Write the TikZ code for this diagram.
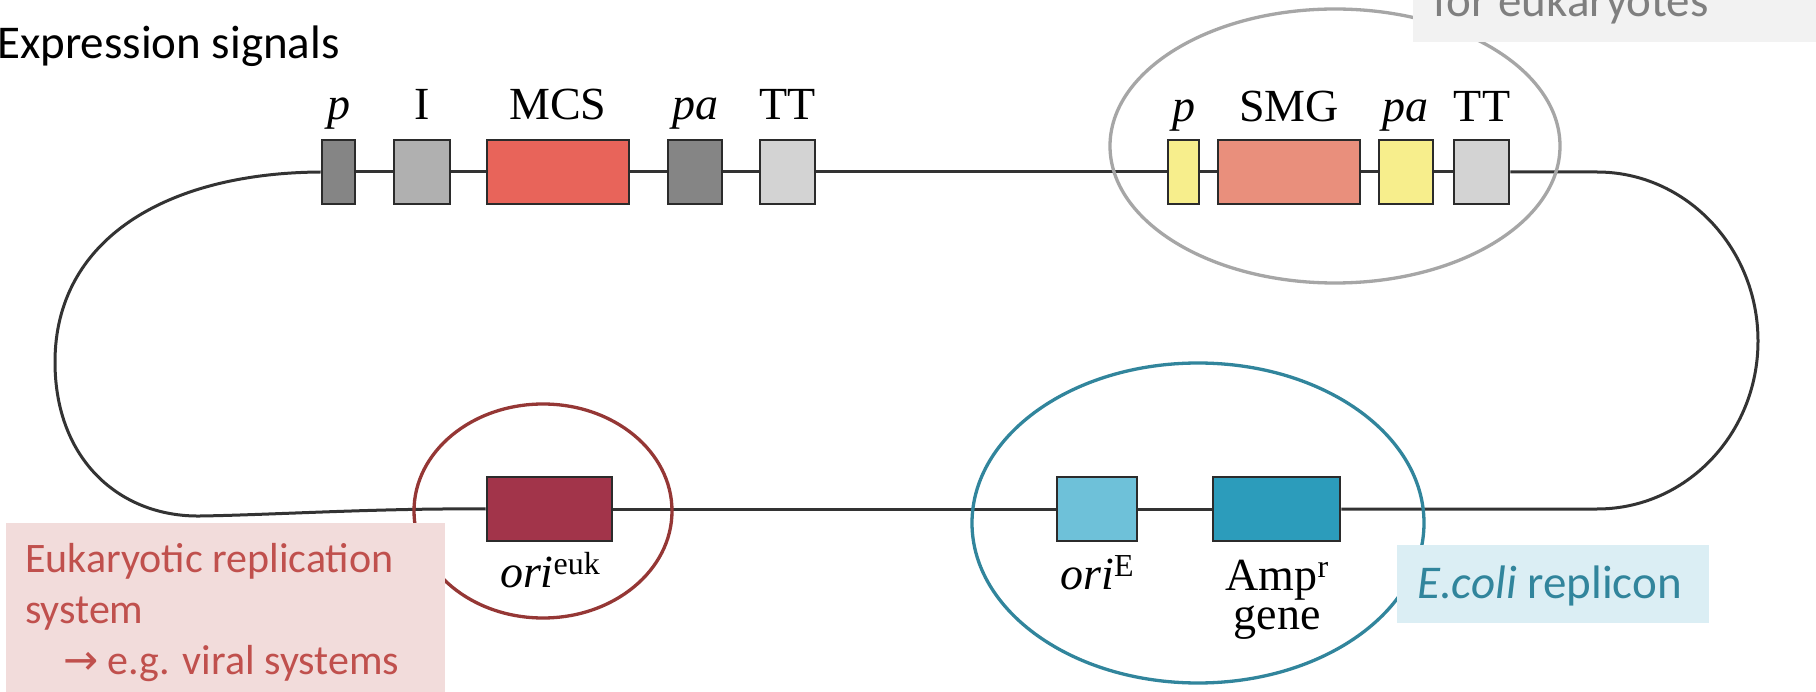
\documentclass[tikz,border=0pt]{standalone}
\usepackage{fontspec}
\setmainfont{Liberation Serif}
\newfontfamily\slidefont{Carlito}
\newfontfamily\arrowfont{DejaVu Sans}

\definecolor{lineC}{HTML}{333333}
\definecolor{boxC}{HTML}{2B2B2B}
\definecolor{darkG}{HTML}{858585}
\definecolor{midG}{HTML}{B0B0B0}
\definecolor{lightG}{HTML}{D3D3D3}
\definecolor{mcsC}{HTML}{E8645A}
\definecolor{smgC}{HTML}{E98F7C}
\definecolor{yelC}{HTML}{F7EE8C}
\definecolor{eukC}{HTML}{A2344A}
\definecolor{oriEC}{HTML}{6EC1D9}
\definecolor{ampC}{HTML}{2C9CBB}
\definecolor{greyE}{HTML}{A6A6A6}
\definecolor{redE}{HTML}{953735}
\definecolor{tealE}{HTML}{31859C}
\definecolor{greyBg}{HTML}{F2F2F2}
\definecolor{pinkBg}{HTML}{F2DCDB}
\definecolor{blueBg}{HTML}{DBEEF4}
\definecolor{greyT}{HTML}{7F7F7F}
\definecolor{redT}{HTML}{C0504D}

\newcommand{\gsup}[1]{\raisebox{13pt}{\fontsize{32}{32}\selectfont #1}}

\begin{document}
\begin{tikzpicture}[
  x=1pt, y=-1pt,
  gene/.style={
    draw=boxC,
    line width=2.6pt,
    minimum height=64pt,
    inner sep=0pt
  },
  lbl/.style={anchor=base, inner sep=0pt, font=\fontsize{46}{46}\selectfont},
  dna/.style={draw=lineC, line width=3pt},
  grp/.style={line width=3.3pt},
  callbox/.style={anchor=north west, inner sep=0pt},
  note/.style={anchor=base west, inner sep=0pt, font=\slidefont\fontsize{47}{57}\selectfont}
]
\useasboundingbox (0,0) rectangle (1816,692);
\fill[white] (0,0) rectangle (1816,692);

% Nodes: top row
\node[gene, fill=darkG, minimum width=33pt] (p1) at (338.5,172) {};
\node[gene, fill=midG, minimum width=56pt] (I) at (422,172) {};
\node[gene, fill=mcsC, minimum width=142pt] (MCS) at (558,172) {};
\node[gene, fill=darkG, minimum width=54pt] (pa1) at (695,172) {};
\node[gene, fill=lightG, minimum width=55pt] (TT1) at (787.5,172) {};
\node[gene, fill=yelC, minimum width=31pt] (p2) at (1183.5,172) {};
\node[gene, fill=smgC, minimum width=142pt] (SMG) at (1289,172) {};
\node[gene, fill=yelC, minimum width=54pt] (pa2) at (1406,172) {};
\node[gene, fill=lightG, minimum width=55pt] (TT2) at (1481.5,172) {};

% Nodes: bottom row
\node[gene, fill=eukC, minimum width=125pt] (orieuk) at (549.5,509) {};
\node[gene, fill=oriEC, minimum width=80pt] (oriE) at (1097,509) {};
\node[gene, fill=ampC, minimum width=127pt] (Amp) at (1276.5,509) {};

% Labels
\node[lbl] (lp1) at (338.5,120) {\textit{p}};
\node[lbl] (lI) at (422,120) {I};
\node[lbl] (lMCS) at (558,120) {MCS};
\node[lbl] (lpa1) at (695,120) {\textit{pa}};
\node[lbl] (lTT1) at (787.5,120) {TT};
\node[lbl] (lp2) at (1183.5,122) {\textit{p}};
\node[lbl] (lSMG) at (1289,122) {SMG};
\node[lbl] (lpa2) at (1405,122) {\textit{pa}};
\node[lbl] (lTT2) at (1482,122) {TT};
\node[lbl] (lorieuk) at (550,587) {\textit{ori}\gsup{euk}};
\node[lbl] (loriE) at (1097,589) {\textit{ori}\gsup{E}};
\node[lbl] (lAmp) at (1277,590) {Amp\gsup{r}};
\node[lbl] (lgene) at (1277,629) {gene};

% Backbone
\coordinate (rtop) at (1597,172);
\coordinate (rmid) at (1758,341);
\coordinate (rbot) at (1597,509);
\coordinate (lmid) at (55,362);
\coordinate (ldip) at (200,516);

\draw[dna] (p1.east) -- (I.west);
\draw[dna] (I.east) -- (MCS.west);
\draw[dna] (MCS.east) -- (pa1.west);
\draw[dna] (pa1.east) -- (TT1.west);
\draw[dna] (TT1.east) -- (p2.west);
\draw[dna] (p2.east) -- (SMG.west);
\draw[dna] (SMG.east) -- (pa2.west);
\draw[dna] (pa2.east) -- (TT2.west);
\draw[dna] (TT2.east) -- (rtop) .. controls (1686,172) and (1758,248) .. (rmid)
  .. controls (1758,434) and (1686,509) .. (rbot) -- (Amp.east);
\draw[dna] (Amp.west) -- (oriE.east);
\draw[dna] (oriE.west) -- (orieuk.east);
\draw[dna] (orieuk.west) .. controls (380,508) and (270,515) .. (ldip)
  .. controls (120,517) and (55,460) .. (lmid)
  .. controls (55,240) and (165,173) .. (p1.west);

% Group outlines
\draw[grp, draw=greyE] (1335,146) ellipse [x radius=225, y radius=137];
\draw[grp, draw=redE] (543,511) ellipse [x radius=129, y radius=107];
\draw[grp, draw=tealE] (1198,523) ellipse [x radius=226, y radius=160];

% Callouts
\node[callbox, fill=greyBg, minimum width=420pt, minimum height=52pt] (selbox) at (1413,-10) {};
\node[callbox, fill=pinkBg, minimum width=439pt, minimum height=180pt] (eukbox) at (6,523) {};
\node[callbox, fill=blueBg, minimum width=312pt, minimum height=78pt] (colibox) at (1397,545) {};

\node[note] (title) at (-3,59) {Expression signals};
\node[note, text=greyT] (seltxt) at (1433,17) {for eukaryotes};
\node[note, text=redT, anchor=north west, align=left,
  font=\slidefont\fontsize{42}{51}\selectfont] (euktxt) at (25,543)
  {Eukaryotic replication\\system\\\hspace*{38pt}{\arrowfont →} e.g. viral systems};
\node[note, text=tealE] (colitxt) at (1417,598) {\textit{E.coli} replicon};

\end{tikzpicture}
\end{document}
